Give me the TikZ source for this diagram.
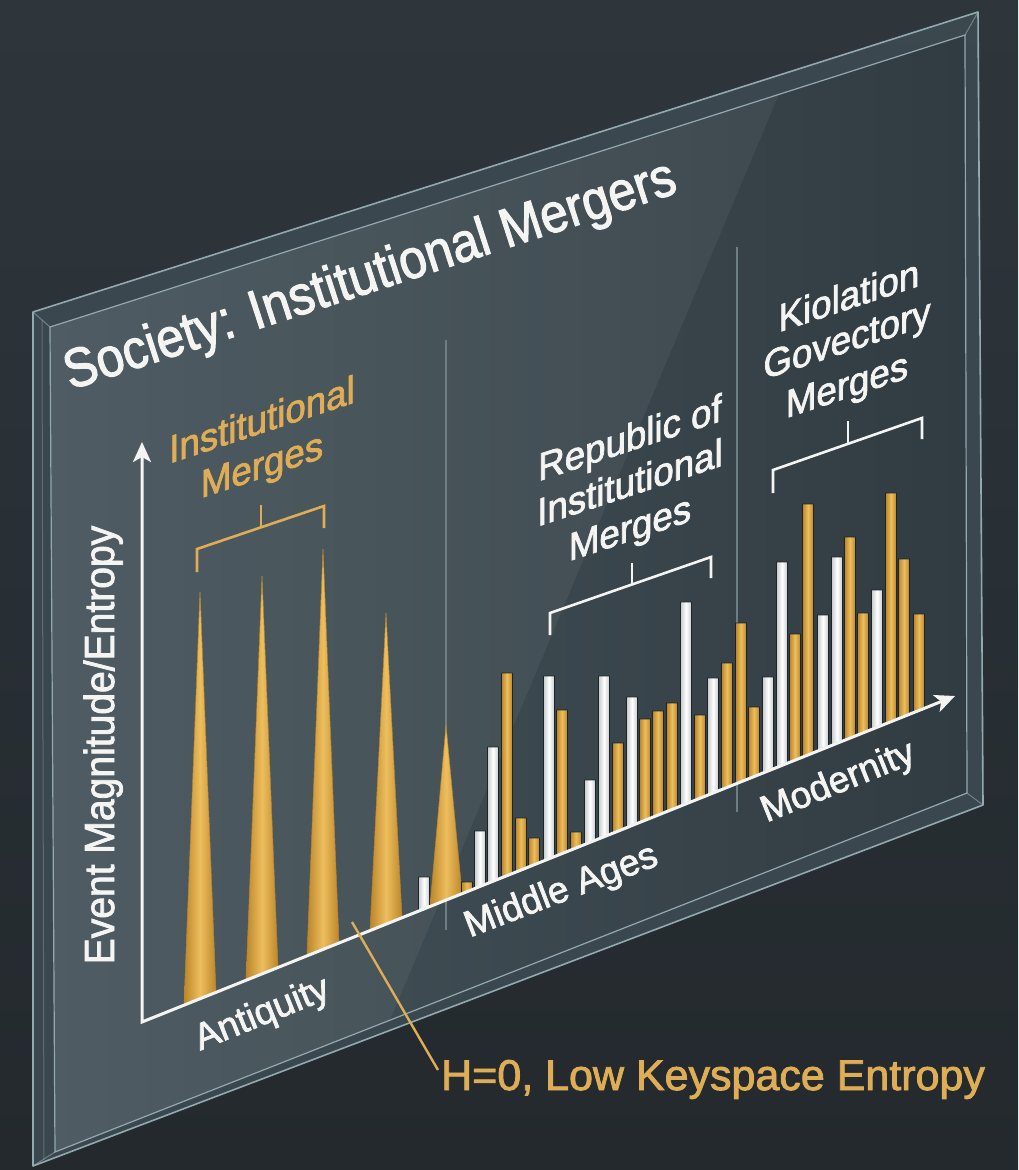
\documentclass[tikz,border=0pt]{standalone}
\usepackage{fontspec}
\setmainfont{Liberation Sans}
\newfontfamily\medf{Liberation Sans}[FakeBold=2]
\usetikzlibrary{arrows.meta}
\definecolor{bgtop}{HTML}{2E363C}
\definecolor{bgbot}{HTML}{23292D}
\definecolor{framec}{HTML}{3C4950}
\definecolor{edgec}{HTML}{93A9B0}
\definecolor{faceL}{HTML}{46545B}
\definecolor{faceR}{HTML}{313C42}
\definecolor{goldL}{HTML}{EDBE5E}
\definecolor{goldD}{HTML}{BC8629}
\definecolor{goldtext}{HTML}{DEAD55}
\definecolor{whiteL}{HTML}{FFFFFF}
\definecolor{whiteD}{HTML}{C6CBCD}
\definecolor{divc}{HTML}{6E7E86}
\definecolor{shadowc}{HTML}{1E2427}
\definecolor{txt}{HTML}{F4F4F2}
\begin{document}
\begin{tikzpicture}[x=1pt,y=-1pt,
  goldbar/.style={left color=goldD, right color=goldD, middle color=goldL, draw=shadowc, line width=0.7pt, line join=round},
  spikebar/.style={left color=goldD, right color=goldD, middle color=goldL, draw=goldD, line width=0.5pt, line join=round},
  whitebar/.style={left color=whiteD, right color=whiteD, middle color=whiteL, draw=shadowc, line width=0.7pt, line join=round},
  axisline/.style={draw=txt, line width=3pt, line join=miter},
  bracketw/.style={draw=txt, line width=2.6pt},
  bracketg/.style={draw=goldtext, line width=2.6pt},
  divider/.style={draw=divc, line width=1.3pt},
  lbl/.style={text=txt, inner sep=0pt, anchor=base},
  glbl/.style={text=goldtext, inner sep=0pt, anchor=base},
  slantlbl/.style={yslant=0.33, xscale=0.94, font=\medf\fontsize{39}{42}\selectfont},
  axlbl/.style={lbl, rotate=22, font=\medf\fontsize{37}{40}\selectfont},
]
\useasboundingbox (0,0) rectangle (1018,1170);
\shade[top color=bgtop, bottom color=bgbot] (0,0) rectangle (1018,1170);

% glass panel
\fill[framec, opacity=0.95] (33,312) -- (978,12) -- (983,805) -- (33,1166) -- cycle;
\shade[left color=faceL, right color=faceR] (50,327) -- (965,35) -- (967,793) -- (55,1152) -- cycle;
\fill[white, opacity=0.05] (50,327) -- (779,94) -- (390,1020) -- (55,1152) -- cycle;
\draw[edgec, line width=1.6pt, line join=round] (33,312) -- (978,12) -- (983,805) -- (33,1166) -- cycle;
\draw[edgec, line width=1.2pt] (50,327) -- (965,35) -- (967,793) -- (55,1152) -- cycle;
\draw[edgec, line width=1pt, opacity=0.6] (33,312) -- (50,327) (978,12) -- (965,35) (983,805) -- (967,793) (33,1166) -- (55,1152);
\draw[edgec, opacity=0.4, line width=1pt] (42,320) -- (44,1160);

% dividers
\draw[divider] (446,340) -- (446,930);
\draw[divider] (737,247) -- (737,812);

% spikes
\foreach \x/\t in {200/592, 262/576, 323/549, 386/613, 446/725} {
  \shade[spikebar] ({\x-16},{1022-0.4022*(\x-16-142)}) -- (\x,\t) -- ({\x+16},{1022-0.4022*(\x+16-142)}) -- cycle;
}
% gold bars
\foreach \x/\t in {467/882, 507/673, 521/818, 534/838, 562/710, 576/832, 618/743, 645/719, 658/711, 672/703, 700/715, 727/663, 741/623, 754/707, 795/634, 808/504, 850/537, 863/613, 891/493, 904/559, 919/614} {
  \shade[goldbar] ({\x-5.5},{1022-0.4022*(\x-5.5-142)}) -- ({\x-5.5},\t) -- ({\x+5.5},\t) -- ({\x+5.5},{1022-0.4022*(\x+5.5-142)}) -- cycle;
}
% white bars
\foreach \x/\t in {424/877, 480/831, 493/747, 549/676, 590/780, 604/676, 632/697, 686/602, 713/678, 768/677, 782/562, 823/615, 837/557, 877/590} {
  \shade[whitebar] ({\x-5.5},{1022-0.4022*(\x-5.5-142)}) -- ({\x-5.5},\t) -- ({\x+5.5},\t) -- ({\x+5.5},{1022-0.4022*(\x+5.5-142)}) -- cycle;
}

% axes
\coordinate (O) at (142,1022);
\coordinate (Ytip) at (142,442);
\coordinate (Xtip) at (955,696);
\draw[axisline, {Stealth[length=20pt,width=18pt,inset=5pt]}-{Stealth[length=20pt,width=18pt,inset=5pt]}] (Ytip) -- (O) -- (Xtip);

% brackets
\draw[bracketg] (197,572) -- (197,549) -- (324,506) -- (324,528);
\draw[bracketg] (261,527) -- (261,505);
\draw[bracketw] (550,635) -- (550,613) -- (711,557) -- (711,578);
\draw[bracketw] (632,585) -- (632,563);
\draw[bracketw] (773,493) -- (773,470) -- (922,418) -- (922,439);
\draw[bracketw] (848,443) -- (848,421);

% title
\node[lbl, rotate=18, xscale=0.9, font=\medf\fontsize{55}{60}\selectfont] (title) at (375,291) {Society: Institutional Mergers};
% y label
\node[lbl, rotate=90, xscale=0.93, font=\medf\fontsize{42}{46}\selectfont] (ylab) at (114,745) {Event Magnitude/Entropy};

% bracket labels
\node[glbl, slantlbl] (g1) at (262,433) {Institutional};
\node[glbl, slantlbl] (g2) at (262,478) {Merges};
\node[lbl, slantlbl] (r1) at (630,451) {Republic of};
\node[lbl, slantlbl] (r2) at (630,496) {Institutional};
\node[lbl, slantlbl] (r3) at (630,541) {Merges};
\node[lbl, slantlbl] (k1) at (849,309) {Kiolation};
\node[lbl, slantlbl] (k2) at (847,352) {Govectory};
\node[lbl, slantlbl] (k3) at (847,398) {Merges};

% axis labels
\node[axlbl] (ant) at (266,1024) {Antiquity};
\node[axlbl, rotate=-1] (mid) at (565,901) {Middle Ages};
\node[axlbl] (mod) at (842,792) {Modernity};

% H label with leader
\coordinate (hpt) at (352,922);
\node[glbl, anchor=base west, font=\medf\fontsize{43}{48}\selectfont] (hlab) at (441,1090) {H=0, Low Keyspace Entropy};
\draw[goldtext, line width=2.4pt] (hpt) -- ([shift={(-3,-20)}]hlab.base west);
\end{tikzpicture}
\end{document}
